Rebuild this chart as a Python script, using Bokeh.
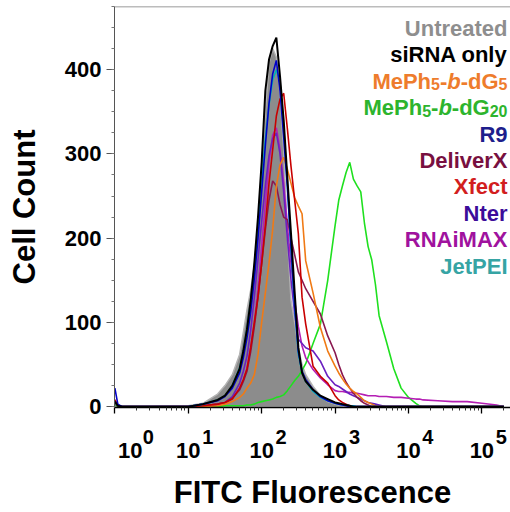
from bokeh.plotting import figure
from bokeh.models import Range1d, FixedTicker, SingleIntervalTicker, Label, Span, LogAxis
from bokeh.embed import file_html
from bokeh.resources import INLINE

# ---------------- data (log10 of FITC channel, cell counts) ----------------
LOG_FITC = [0.0, 0.04, 0.1, 0.5, 1.0,
            1.2, 1.4, 1.5, 1.6, 1.7, 1.75, 1.8, 1.85, 1.9, 1.95,
            2.0, 2.05, 2.1, 2.15, 2.2, 2.25, 2.3, 2.35, 2.4, 2.45,
            2.5, 2.55, 2.6, 2.7, 2.8, 2.9, 3.0,
            3.05, 3.1, 3.15, 3.2, 3.25, 3.3, 3.35, 3.4, 3.45, 3.5, 3.55, 3.6,
            3.7, 3.8, 3.9, 4.0, 4.1, 4.15, 4.2,
            4.4, 4.6, 4.8, 5.0, 5.2, 5.3]

UNTREATED = [4, 1, 0, 0, 1,
             4, 15, 25, 38, 62, 88, 115, 138, 168, 215,
             285, 350, 408, 425, 415, 372, 305, 205, 126, 100,
             70, 50, 38, 24, 13, 6, 3,
             2, 1, 0, 0, 0, 0, 0, 0, 0, 0, 0, 0,
             0, 0, 0, 0, 0, 0, 0,
             0, 0, 0, 0, 0, 0]
SIRNA_ONLY = [6, 1, 0, 0, 0,
              3, 8, 13, 25, 45, 66, 92, 126, 170, 225,
              290, 375, 412, 428, 438, 392, 340, 272, 205, 135,
              70, 40, 30, 20, 13, 9, 5,
              4, 3, 2, 1, 0, 0, 0, 0, 0, 0, 0, 0,
              0, 0, 0, 0, 0, 0, 0,
              0, 0, 0, 0, 0, 0]
MEPH_DG5 = [5, 1, 0, 0, 0,
            0, 1, 3, 6, 11, 15, 22, 28, 38, 62,
            100, 135, 170, 210, 262, 287, 296, 282, 265, 248,
            238, 229, 173, 135, 94, 66, 48,
            40, 33, 27, 22, 18, 15, 11, 7, 5, 3, 1, 0,
            0, 0, 0, 0, 0, 0, 0,
            0, 0, 0, 0, 0, 0]
MEPH_DG20 = [3, 0, 0, 0, 0,
             0, 0, 1, 1, 1, 1, 2, 2, 3, 5,
             6, 7, 8, 9, 11, 12, 14, 19, 25, 31,
             36, 43, 51, 75, 98, 150, 215,
             245, 262, 278, 290, 270, 262, 255, 218, 190, 174, 145, 108,
             77, 45, 22, 11, 4, 1, 0,
             0, 0, 0, 0, 0, 0]
R9 = [22, 3, 0, 0, 0,
      3, 7, 12, 22, 40, 58, 82, 112, 152, 200,
      255, 310, 360, 395, 411, 375, 320, 262, 190, 120,
      65, 42, 32, 20, 12, 7, 4,
      3, 2, 1, 0, 0, 0, 0, 0, 0, 0, 0, 0,
      0, 0, 0, 0, 0, 0, 0,
      0, 0, 0, 0, 0, 0]
DELIVERX = [8, 1, 0, 0, 0,
            1, 3, 5, 10, 20, 30, 42, 65, 95, 130,
            170, 210, 245, 268, 262, 240, 225, 222, 200, 180,
            160, 150, 140, 125, 110, 84, 64,
            50, 38, 29, 22, 16, 11, 7, 4, 2, 0, 0, 0,
            0, 0, 0, 0, 0, 0, 0,
            0, 0, 0, 0, 0, 0]
XFECT = [8, 1, 0, 0, 0,
         1, 3, 5, 9, 22, 32, 45, 70, 100, 130,
         170, 215, 265, 305, 345, 365, 372, 330, 285, 245,
         205, 130, 98, 48, 36, 28, 13,
         8, 5, 3, 1, 0, 0, 0, 0, 0, 0, 0, 0,
         0, 0, 0, 0, 0, 0, 0,
         0, 0, 0, 0, 0, 0]
NTER = [6, 1, 0, 0, 0,
        1, 3, 5, 12, 28, 42, 60, 90, 130, 175,
        220, 262, 298, 318, 325, 300, 255, 200, 150, 110,
        80, 75, 70, 66, 54, 36, 26,
        24, 21, 18, 15, 13, 11, 9, 7, 5, 4, 3, 2,
        0, 0, 0, 0, 0, 0, 0,
        0, 0, 0, 0, 0, 0]
RNAIMAX = [4, 1, 0, 0, 0,
           1, 2, 4, 10, 22, 32, 45, 70, 100, 140,
           190, 240, 290, 322, 331, 305, 265, 215, 170, 125,
           95, 72, 58, 44, 34, 26, 19,
           18, 18, 17, 17, 16, 16, 15, 14, 13, 13, 13, 12,
           12, 11, 11, 10, 9, 9, 8,
           7, 6, 6, 4, 2, 0]
JETPEI = [5, 1, 0, 0, 0,
          3, 8, 13, 25, 46, 66, 92, 125, 165, 215,
          268, 318, 358, 388, 400, 385, 332, 262, 185, 118,
          62, 40, 30, 18, 11, 7, 4,
          3, 2, 2, 1, 1, 0, 0, 0, 0, 0, 0, 0,
          0, 0, 0, 0, 0, 0, 0,
          0, 0, 0, 0, 0, 0]

SERIES_NAMES = ["Untreated", "siRNA only", "MePh5-b-dG5", "MePh5-b-dG20", "R9",
                "DeliverX", "Xfect", "Nter", "RNAiMAX", "JetPEI"]
TICK_EXPONENTS = [0, 1, 2, 3, 4, 5]
Y_TICK_STEP = 100
X_TITLE = "FITC Fluorescence"
Y_TITLE = "Cell Count"

# ---------------- style ----------------
LINE_COLORS = {"siRNA only": "#000000", "MePh5-b-dG5": "#F07A15", "MePh5-b-dG20": "#1FE01F",
               "R9": "#0000C8", "DeliverX": "#8A1850", "Xfect": "#C80000", "Nter": "#6A20C0",
               "RNAiMAX": "#B41EB4", "JetPEI": "#00B4B4"}
TEXT_COLORS = {"Untreated": "#8E8E8E", "siRNA only": "#000000", "MePh5-b-dG5": "#EE7C2C",
               "MePh5-b-dG20": "#2DB42D", "R9": "#1E1E8C", "DeliverX": "#781040",
               "Xfect": "#D21E1E", "Nter": "#3C0C9A", "RNAiMAX": "#A0129E", "JetPEI": "#36A4A4"}
FONT = "Liberation Sans"
NB = "\u00a0"

FRAME_L, FRAME_R, FRAME_T, FRAME_B = 114, 510, 6, 407
X_LOG0, X_LOG1 = -0.005, 5.39
Y0, Y1 = -1, 475


def xdata(px):
    return 10 ** (X_LOG0 + (px - FRAME_L) / (FRAME_R - FRAME_L) * (X_LOG1 - X_LOG0))


def ydata(py):
    return Y0 + (FRAME_B - py) / (FRAME_B - FRAME_T) * (Y1 - Y0)


xs = [10 ** v for v in LOG_FITC]
major = [10.0 ** e for e in TICK_EXPONENTS]

p = figure(width=510, height=512, x_axis_type="log",
           x_range=Range1d(10 ** X_LOG0, 10 ** X_LOG1), y_range=Range1d(Y0, Y1),
           output_backend="svg", toolbar_location=None,
           min_border_left=FRAME_L, min_border_right=0, min_border_top=FRAME_T,
           min_border_bottom=512 - FRAME_B)
p.outline_line_color = None
p.grid.visible = False
p.background_fill_color = "white"
p.border_fill_color = "white"

# x axis A: ticks + superscript exponents
xa = p.xaxis[0]
xa.ticker = FixedTicker(ticks=major,
                        minor_ticks=[m * 10.0 ** e for e in TICK_EXPONENTS for m in range(2, 10)])
xa.major_label_overrides = {t: NB * (12 if e == 0 else 7) + str(e)
                            for t, e in zip(major, TICK_EXPONENTS)}
xa.major_label_text_font = FONT
xa.major_label_text_font_style = "bold"
xa.major_label_text_font_size = "20px"
xa.major_label_text_color = "black"
xa.major_label_standoff = 12
xa.axis_line_color = "black"
xa.axis_line_width = 1.5
xa.major_tick_line_color = "black"
xa.major_tick_line_width = 1.3
xa.minor_tick_line_color = "#333333"
xa.major_tick_in = 0
xa.major_tick_out = 6
xa.minor_tick_in = 0
xa.minor_tick_out = 3

# x axis B: the "10" bases and the axis title
xb = LogAxis(ticker=FixedTicker(ticks=major))
xb.major_label_overrides = {t: NB * (5 if e == 0 else 0) + "10"
                            for t, e in zip(major, TICK_EXPONENTS)}
xb.major_label_text_font = FONT
xb.major_label_text_font_style = "bold"
xb.major_label_text_font_size = "22px"
xb.major_label_text_color = "black"
xb.major_label_standoff = -13
xb.axis_line_color = None
xb.major_tick_line_color = None
xb.minor_tick_line_color = None
xb.major_tick_out = 0
xb.major_tick_in = 0
xb.axis_label = X_TITLE
xb.axis_label_text_font = FONT
xb.axis_label_text_font_style = "bold"
xb.axis_label_text_font_size = "31px"
xb.axis_label_text_color = "black"
xb.axis_label_standoff = 9
p.add_layout(xb, "below")

# y axis
ya = p.yaxis[0]
ya.ticker = SingleIntervalTicker(interval=Y_TICK_STEP, num_minor_ticks=4)
ya.axis_line_color = "#555555"
ya.major_tick_line_color = "#555555"
ya.minor_tick_line_color = "#777777"
ya.major_tick_in = 0
ya.major_tick_out = 8
ya.minor_tick_in = 0
ya.minor_tick_out = 3
ya.major_label_text_font = FONT
ya.major_label_text_font_style = "bold"
ya.major_label_text_font_size = "22px"
ya.major_label_text_color = "black"
ya.major_label_standoff = 5
ya.axis_label = Y_TITLE
ya.axis_label_text_font = FONT
ya.axis_label_text_font_style = "bold"
ya.axis_label_text_font_size = "31px"
ya.axis_label_text_color = "black"
ya.axis_label_standoff = 20

# top frame line
p.add_layout(Span(location=Y1, dimension="width", line_color="#7a7a7a", line_width=1.5))

# histograms
p.varea(x=xs, y1=[0] * len(xs), y2=UNTREATED, fill_color="#8C8C8C")
p.line(xs, UNTREATED, line_color="#B4B4B4", line_width=1.5)

draw_order = [("MePh5-b-dG20", MEPH_DG20), ("RNAiMAX", RNAIMAX), ("Nter", NTER),
              ("DeliverX", DELIVERX), ("MePh5-b-dG5", MEPH_DG5), ("Xfect", XFECT),
              ("JetPEI", JETPEI), ("R9", R9), ("siRNA only", SIRNA_ONLY)]
for name, counts in draw_order:
    p.line(xs, counts, line_color=LINE_COLORS[name],
           line_width=2.0 if name == "siRNA only" else 1.6)

# legend (right-aligned coloured names with sub/italic parts)
W = {" ": 278, "-": 333, "M": 833, "e": 556, "P": 667, "h": 611, "b": 611, "d": 611, "G": 778}
for dgt in "0123456789":
    W[dgt] = 556
MAIN, SUB = 22, 16
RICH = {"MePh5-b-dG5": [("MePh", "n"), ("5", "s"), ("-", "n"), ("b", "i"), ("-dG", "n"), ("5", "s")],
        "MePh5-b-dG20": [("MePh", "n"), ("5", "s"), ("-", "n"), ("b", "i"), ("-dG", "n"), ("20", "s")]}
LEG_RIGHT = 507
for i, name in enumerate(SERIES_NAMES):
    base = 28 + 26.4 * i
    pieces = RICH.get(name, [(name, "n")])
    off = 0.0
    for txt, kind in reversed(pieces):
        size = SUB if kind == "s" else MAIN
        style = "bold italic" if kind == "i" else "bold"
        yb = base + 3 if kind == "s" else base
        p.add_layout(Label(x=xdata(LEG_RIGHT), y=ydata(yb), text=txt, x_offset=-off,
                           text_align="right", text_baseline="alphabetic",
                           text_font=FONT, text_font_style=style,
                           text_font_size=f"{size}px", text_color=TEXT_COLORS[name]))
        off += sum(W.get(c, 556) for c in txt) * size / 1000.0

open("out.html", "w").write(file_html(p, INLINE, "FITC histogram"))
